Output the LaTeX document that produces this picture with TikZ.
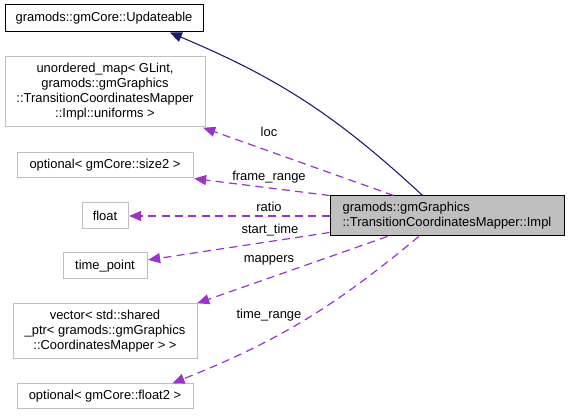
\documentclass[tikz,border=0pt]{standalone}
\usepackage{fontspec}
\setmainfont{Liberation Sans}
\usepackage{xcolor}
\usetikzlibrary{arrows.meta,positioning}
\definecolor{boxgray}{HTML}{BFBFBF}
\definecolor{memberpurple}{HTML}{9A32CD}
\definecolor{basenavy}{HTML}{191970}

\begin{document}
\begin{tikzpicture}[x=0.75pt,y=-0.75pt,
    font=\fontsize{9.7}{11.25}\selectfont,
    classbox/.style={draw=boxgray,line width=0.75pt,fill=white,inner sep=0pt,align=center},
    member/.style={draw=memberpurple,line width=0.9pt,dash pattern=on 6pt off 4pt,
      -{Triangle[length=9pt,width=7.5pt]},shorten >=0.5pt},
    base/.style={draw=basenavy,line width=0.8pt,-{Triangle[length=9pt,width=7.5pt]}},
    edgelabel/.style={inner sep=0pt}]
  \useasboundingbox (0,0) rectangle (569,416);
  % classes
  \node[classbox,draw=black,minimum width=148.5pt,minimum height=20.25pt] (upd) at (104,18.5) {gramods::gmCore::Updateable};
  \node[classbox,minimum width=150pt,minimum height=52.5pt] (umap) at (105,92) {unordered\_map< GLint,\\ gramods::gmGraphics\\::TransitionCoordinatesMapper\\::Impl::uniforms >};
  \node[classbox,minimum width=132pt,minimum height=18.75pt] (size2) at (105,165.5) {optional< gmCore::size2 >};
  \node[classbox,minimum width=34.5pt,minimum height=19.5pt] (flt) at (105,216) {float};
  \node[classbox,minimum width=63pt,minimum height=19.5pt] (tpoint) at (105,266) {time\_point};
  \node[classbox,minimum width=138pt,minimum height=41.25pt] (vec) at (105,331.5) {vector< std::shared\\\_ptr< gramods::gmGraphics\\::CoordinatesMapper > >};
  \node[classbox,minimum width=132pt,minimum height=18.75pt] (flt2) at (105,396.5) {optional< gmCore::float2 >};
  \node[classbox,draw=black,fill=boxgray,align=left,minimum width=175.5pt,minimum height=30pt] (impl) at (447,216) {gramods::gmGraphics\\::TransitionCoordinatesMapper::Impl};

  % connectors
  \draw[base] (impl.140) to[bend right=10] (upd.348);
  \draw[member] (impl.159) -- (umap.340);
  \draw[member] (impl.north west) -- (size2.south east);
  \draw[member] (impl.west) -- (flt.east);
  \draw[member] (impl.188) -- (tpoint.8);
  \draw[member] (impl.199) -- (vec.17);
  \draw[member] (impl.216) to[bend left=9] (flt2.11);

  % labels
  \node[edgelabel] (lloc) at (269,132) {loc};
  \node[edgelabel] (lframe) at (269,177) {frame\_range};
  \node[edgelabel] (lratio) at (269,207) {ratio};
  \node[edgelabel] (lstart) at (270,230) {start\_time};
  \node[edgelabel] (lmap) at (269,260) {mappers};
  \node[edgelabel] (lrange) at (269,315) {time\_range};
\end{tikzpicture}
\end{document}
